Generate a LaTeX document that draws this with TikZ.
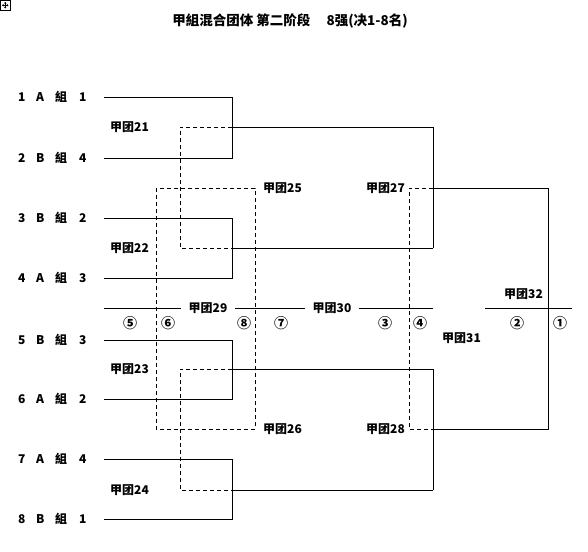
\documentclass[tikz,border=0pt]{standalone}
\usepackage{fontspec}
\setmainfont{Noto Sans CJK SC}
\usetikzlibrary{arrows.meta}
\begin{document}
\begin{tikzpicture}[x=1pt,y=-1pt,
  every node/.style={inner sep=0pt},
  lbl/.style={anchor=west,font=\bfseries\fontsize{12}{12}\selectfont},
  mlbl/.style={anchor=west,font=\bfseries\fontsize{12}{12}\selectfont},
  mid/.style={inner xsep=7pt,font=\bfseries\fontsize{12}{12}\selectfont},
  circ/.style={font=\bfseries\fontsize{14}{14}\selectfont},
  wire/.style={line width=1pt,black},
  dwire/.style={line width=0.9pt,black,dash pattern=on 4pt off 3pt},
]
\fill[white] (0,0) rectangle (588,551);
\useasboundingbox (0,0) rectangle (588,551);

% table handle icon
\draw[line width=0.7pt] (0.5,0.5) rectangle (10,10);
\draw[line width=0.6pt,{Stealth[length=1.6pt,width=2.4pt]}-{Stealth[length=1.6pt,width=2.4pt]}] (2,5.25) -- (8.5,5.25);
\draw[line width=0.6pt,{Stealth[length=1.6pt,width=2.4pt]}-{Stealth[length=1.6pt,width=2.4pt]}] (5.25,2) -- (5.25,8.5);

% title
\node[font=\bfseries\fontsize{13.5}{14}\selectfont] (title) at (290,21)
  {甲組混合团体 第二阶段\hspace{1.2em}8强(决1-8名)};

% entrants
\foreach \i/\y/\g/\n in {1/97/A/1, 2/158/B/4, 3/218/B/2, 4/278/A/3,
                          5/340/B/3, 6/399/A/2, 7/459/A/4, 8/519/B/1} {
  \node[lbl] (num\i) at (18,\y) {\i};
  \node[lbl] (grp\i) at (36,\y) {\g};
  \node[lbl] (zu\i) at (55,\y) {組};
  \node[lbl] (pos\i) at (79,\y) {\n};
  \coordinate (L\i) at (104,\y);
  \coordinate (R\i) at (232,\y);
}

% first round
\foreach \m/\a/\b/\y in {21/1/2/127, 22/3/4/248, 23/5/6/369, 24/7/8/490} {
  \coordinate (W\m) at (232,\y);
  \coordinate (O\m) at (433,\y);
  \coordinate (D\m) at (180,\y);
  \draw[wire] (L\a) -- (R\a) -- (R\b) -- (L\b);
  \draw[wire] (W\m) -- (O\m);
  \node[mlbl] (t\m) at (110,\y) {甲团\m};
}

% losers of round one
\draw[dwire] (W21) -- (D21) -- (D22) -- (W22);
\draw[dwire] (W23) -- (D23) -- (D24) -- (W24);

% semi finals
\coordinate (W27) at (433,188); \coordinate (E27) at (548,188); \coordinate (K27) at (409,188);
\coordinate (W28) at (433,429); \coordinate (E28) at (548,429); \coordinate (K28) at (409,429);
\draw[wire] (O21) -- (O22);
\draw[wire] (O23) -- (O24);
\draw[wire] (W27) -- (E27) -- (E28) -- (W28);
\draw[dwire] (W27) -- (K27) -- (K28) -- (W28);
\node[mlbl] (t27) at (366,188) {甲团27};
\node[mlbl] (t28) at (366,429) {甲团28};

% matches 25 / 26
\coordinate (B25) at (156,188); \coordinate (B26) at (255,429);
\draw[dwire] (B25) rectangle (B26);
\node[mlbl] (t25) at (263,188) {甲团25};
\node[mlbl] (t26) at (263,429) {甲团26};

% placement line
\coordinate (S29) at (104,308); \coordinate (S30) at (433,308);
\node[mid] (t29) at (208,308) {甲团29};
\node[mid] (t30) at (332,308) {甲团30};
\draw[wire] (S29) -- (t29);
\draw[wire] (t29) -- (t30);
\draw[wire] (t30) -- (S30);
\coordinate (S32) at (485,308); \coordinate (T32) at (572,308);
\draw[wire] (S32) -- (T32);
\node[mlbl] (t32) at (504,294) {甲团32};
\node[mlbl] (t31) at (442,338) {甲团31};

% places
\node[circ] (p5) at (130,323) {⑤};
\node[circ] (p6) at (168,323) {⑥};
\node[circ] (p8) at (244,323) {⑧};
\node[circ] (p7) at (281,323) {⑦};
\node[circ] (p3) at (385,323) {③};
\node[circ] (p4) at (420,323) {④};
\node[circ] (p2) at (517,323) {②};
\node[circ] (p1) at (560,323) {①};
\end{tikzpicture}
\end{document}
